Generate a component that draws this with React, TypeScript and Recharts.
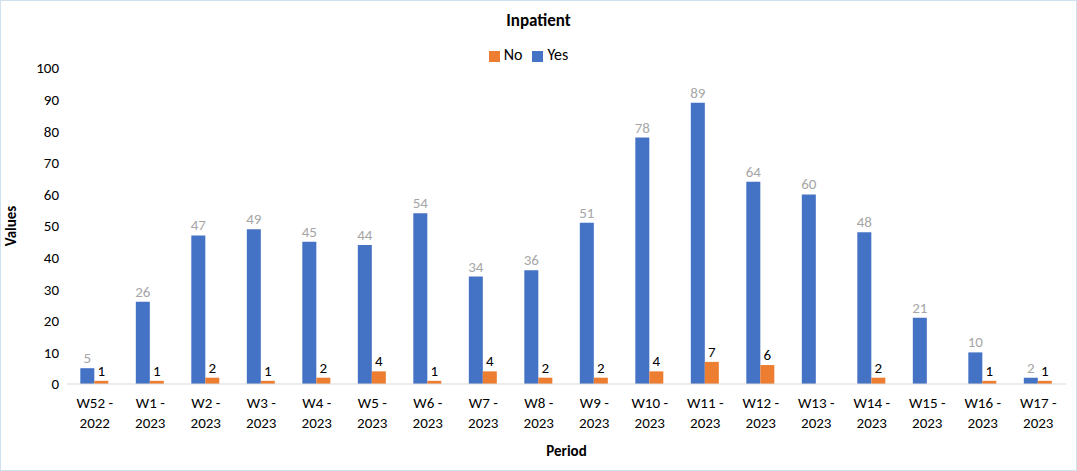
import React from 'react';
import { BarChart, Bar, XAxis, YAxis, Legend, LabelList, Label } from 'recharts';

const periods = ['W52 - 2022','W1 - 2023','W2 - 2023','W3 - 2023','W4 - 2023','W5 - 2023','W6 - 2023','W7 - 2023','W8 - 2023','W9 - 2023','W10 - 2023','W11 - 2023','W12 - 2023','W13 - 2023','W14 - 2023','W15 - 2023','W16 - 2023','W17 - 2023'];
const yes = [5,26,47,49,45,44,54,34,36,51,78,89,64,60,48,21,10,2];
const no = [1,1,2,1,2,4,1,4,2,2,4,7,6,0,2,0,1,1];
const yTicks = [0,10,20,30,40,50,60,70,80,90,100];

const data = periods.map((p, i) => ({ period: p, Yes: yes[i], No: no[i] }));

const Tick = (props: any) => {
  const { x, y, payload } = props;
  const parts = String(payload.value).split(' - ');
  return (
    <g transform={`translate(${x},${y})`}>
      <text textAnchor="middle" fontSize={15} fill="#000" fontFamily="Calibri, Carlito, 'Liberation Sans', sans-serif">
        <tspan x={0} dy={16}>{parts[0]} -</tspan>
        <tspan x={0} dy={20}>{parts[1]}</tspan>
      </text>
    </g>
  );
};

export default function App() {
  const font = "Calibri, Carlito, 'Liberation Sans', sans-serif";
  return (
    <div style={{ position: 'absolute', left: 0, top: 0, width: 1077, height: 471, background: '#fff', border: '1px solid #cfe0ef', boxSizing: 'border-box', fontFamily: font }}>
      <div style={{ position: 'absolute', top: 9, width: '100%', textAlign: 'center', fontWeight: 'bold', fontSize: 17 }}>Inpatient</div>
      <BarChart width={1077} height={471} data={data} margin={{ top: 48, right: 12, left: 0, bottom: 28 }} barGap={0} barCategoryGap="24%">
        <XAxis dataKey="period" tick={<Tick />} interval={0} height={60} axisLine={{ stroke: '#d9d9d9' }} tickLine={false}>
          <Label value="Period" position="insideBottom" offset={-12} style={{ fontWeight: 'bold', fontSize: 15, fill: '#000', fontFamily: font }} />
        </XAxis>
        <YAxis domain={[0, 100]} ticks={yTicks} width={66} axisLine={false} tickLine={false} tick={{ fontSize: 15, fill: '#000', fontFamily: font }}>
          <Label value="Values" angle={-90} position="insideLeft" offset={10} style={{ fontWeight: 'bold', fontSize: 15, fill: '#000', fontFamily: font, textAnchor: 'middle' }} />
        </YAxis>
        <Legend verticalAlign="top" align="center" iconType="square" iconSize={11} wrapperStyle={{ top: 44, fontSize: 16, fontFamily: font }} formatter={(v: string) => <span style={{ color: '#000' }}>{v}</span>} />
        <Bar dataKey="Yes" fill="#4472C4" isAnimationActive={false}>
          <LabelList dataKey="Yes" position="top" style={{ fill: '#a6a6a6', fontSize: 15, fontFamily: font }} />
        </Bar>
        <Bar dataKey="No" fill="#ED7D31" isAnimationActive={false}>
          <LabelList dataKey="No" position="top" style={{ fill: '#000', fontSize: 15, fontFamily: font }} />
        </Bar>
      </BarChart>
    </div>
  );
}
